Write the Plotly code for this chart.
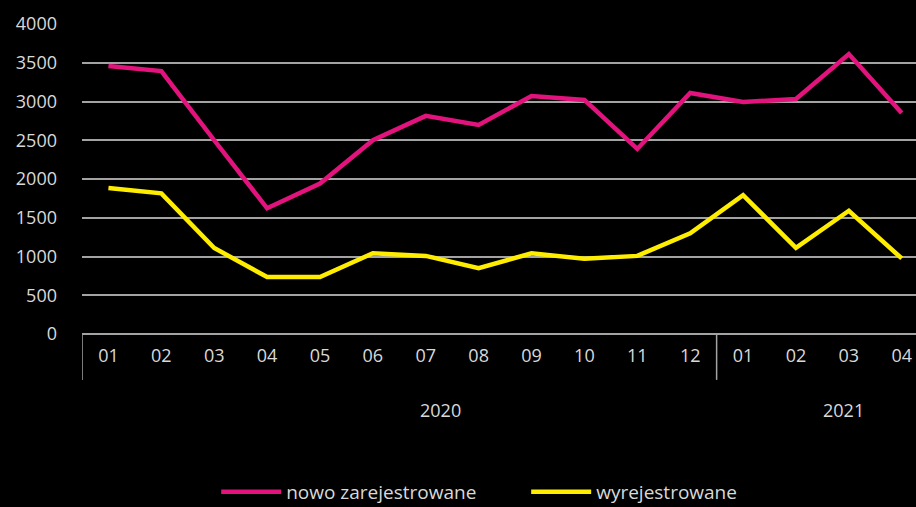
import plotly.graph_objects as go

months = ["01", "02", "03", "04", "05", "06", "07", "08", "09", "10", "11", "12",
          "01", "02", "03", "04"]
years = ["2020"] * 12 + ["2021"] * 4
nowo = [3458, 3392, 2500, 1622, 1942, 2500, 2815, 2698, 3070, 3020, 2388, 3110,
        2994, 3032, 3612, 2852]
wyrej = [1884, 1815, 1110, 735, 735, 1042, 1008, 850, 1042, 970, 1008, 1300,
         1792, 1112, 1590, 975]
year_labels = ["2020", "2021"]
year_label_pos = [6.27, 13.9]

PINK = "#e3137d"
YELLOW = "#ffed00"
TXT = "#d9d9d9"
GRID = "#a3a3a3"
FONT = "Open Sans"

x = list(range(len(months)))

fig = go.Figure()
fig.add_trace(go.Scatter(x=x, y=nowo, mode="lines", name="nowo zarejestrowane",
                         line=dict(color=PINK, width=4.5)))
fig.add_trace(go.Scatter(x=x, y=wyrej, mode="lines", name="wyrejestrowane",
                         line=dict(color=YELLOW, width=4.5)))

# group dividers (start and boundary between years)
boundaries = [-0.5] + [i - 0.5 for i in range(1, len(years)) if years[i] != years[i - 1]]
for b in boundaries:
    fig.add_shape(type="line", xref="x", yref="paper", x0=b, x1=b, y0=0, y1=-0.148,
                  line=dict(color=GRID, width=1.5))

for lbl, pos in zip(year_labels, year_label_pos):
    fig.add_annotation(text=lbl, x=pos, xref="x", y=-0.245, yref="paper",
                       showarrow=False, font=dict(family=FONT, size=18, color=TXT),
                       yanchor="middle")

fig.update_layout(
    width=916, height=507,
    paper_bgcolor="black", plot_bgcolor="black",
    margin=dict(l=82, r=0, t=24, b=173),
    font=dict(family=FONT, size=18, color=TXT),
    showlegend=True,
    legend=dict(orientation="h", xref="container", yref="container",
                x=0.236, xanchor="left", y=0.03, yanchor="middle",
                font=dict(family=FONT, size=19, color=TXT),
                entrywidth=235, itemwidth=60),
    xaxis=dict(range=[-0.5, 15.27], tickmode="array", tickvals=x, ticktext=months,
               showgrid=False, zeroline=False, showline=False, ticks="",
               ticklabelstandoff=9, tickfont=dict(family=FONT, size=18, color=TXT)),
    yaxis=dict(range=[0, 4000], tickmode="linear", tick0=0, dtick=500,
               showgrid=True, gridcolor=GRID, gridwidth=1.5,
               zeroline=True, zerolinecolor=GRID, zerolinewidth=1.5,
               showline=False, ticks="", ticklabelstandoff=24,
               tickfont=dict(family=FONT, size=18, color=TXT)),
)

fig.write_html(
    "out.html",
    config={"displayModeBar": False},
    post_script="document.body.style.margin='0';document.body.style.background='black';"
                "document.body.style.overflow='hidden';",
)
